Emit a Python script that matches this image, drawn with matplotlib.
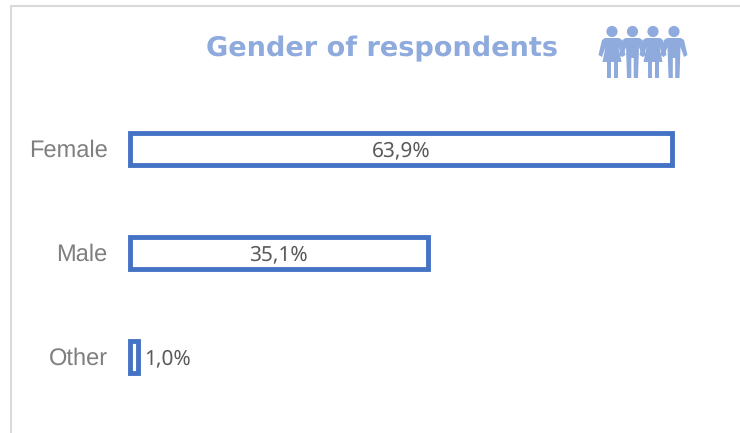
import matplotlib
matplotlib.use("Agg")
import matplotlib.pyplot as plt
from matplotlib.patches import Circle, Polygon
from matplotlib.transforms import ScaledTranslation

plt.rcParams["text.hinting"] = "no_hinting"
plt.rcParams["ytick.alignment"] = "center_baseline"

categories = ["Female", "Male", "Other"]
values = [63.9, 35.1, 1.0]
labels = ["63,9%", "35,1%", "1,0%"]
title = "Gender of respondents"

W, H = 740, 433
blue = "#4472c4"
light = "#8faadc"

fig = plt.figure(figsize=(W / 100, H / 100), dpi=100)

# overlay in pixel coords for the frame and the icon
bg = fig.add_axes([0, 0, 1, 1])
bg.set_xlim(0, W)
bg.set_ylim(H, 0)
bg.axis("off")
bg.plot([11, 11, W], [H, 6, 6], color="#d9d9d9", lw=1.5, solid_joinstyle="miter")


def woman(x):
    bg.add_patch(Circle((x, 31.5), 5.6, color=light, lw=0))
    bg.add_patch(Polygon([(x - 7, 38), (x + 7, 38), (x + 10, 40), (x + 13.5, 55), (x + 10, 57),
                          (x + 6.5, 47), (x + 9.5, 62), (x - 9.5, 62), (x - 6.5, 47), (x - 10, 57),
                          (x - 13.5, 55), (x - 10, 40)], color=light, lw=0))
    bg.add_patch(Polygon([(x - 5.5, 62), (x - 1.5, 62), (x - 1.5, 78), (x - 5.5, 78)], color=light, lw=0))
    bg.add_patch(Polygon([(x + 1.5, 62), (x + 5.5, 62), (x + 5.5, 78), (x + 1.5, 78)], color=light, lw=0))


def man(x):
    bg.add_patch(Circle((x, 31.5), 5.6, color=light, lw=0))
    bg.add_patch(Polygon([(x - 7, 38), (x + 7, 38), (x + 10, 40), (x + 13.5, 55), (x + 10, 57),
                          (x + 6.5, 47), (x + 5.5, 78), (x + 1.2, 78), (x + 1.2, 58), (x - 1.2, 58),
                          (x - 1.2, 78), (x - 5.5, 78), (x - 6.5, 47), (x - 10, 57), (x - 13.5, 55),
                          (x - 10, 40)], color=light, lw=0))


woman(612)
man(632.5)
woman(653)
man(674)

bg.text(381.5, 48.5, title, color=light, fontsize=19.5, fontweight="bold",
        family="DejaVu Sans", ha="center", va="center")

# bar area: x from 130 px, y from 97 to 409 px, one category = 104 px
ax = fig.add_axes([129.8 / W, 1 - 409 / H, 594 / W, 312 / H])
ax.patch.set_alpha(0)
bars = ax.barh(categories, values, height=0.31, facecolor="white", edgecolor=blue,
               linewidth=3.5, clip_on=False)
ax.set_xlim(0, 70)
ax.set_ylim(2.5, -0.5)
ax.xaxis.set_visible(False)
for s in ax.spines.values():
    s.set_visible(False)
ax.tick_params(axis="y", length=0, pad=16, labelsize=17, labelcolor="#7f7f7f")
nudge = ScaledTranslation(0, 1 / 100, fig.dpi_scale_trans)
for t in ax.get_yticklabels():
    t.set_family("Liberation Sans")
    t.set_transform(t.get_transform() + nudge)

for i, v in enumerate(values):
    if v > 5:
        ax.annotate(labels[i], (v / 2, i), xytext=(0, 0.7), textcoords="offset points",
                    ha="center", va="center_baseline",
                    fontsize=15, color="#595959", family="Noto Sans")
    else:
        ax.annotate(labels[i], (v, i), xytext=(4, 0.7), textcoords="offset points",
                    ha="left", va="center_baseline", fontsize=15, color="#595959", family="Noto Sans")

fig.savefig("out.png", dpi=100)
